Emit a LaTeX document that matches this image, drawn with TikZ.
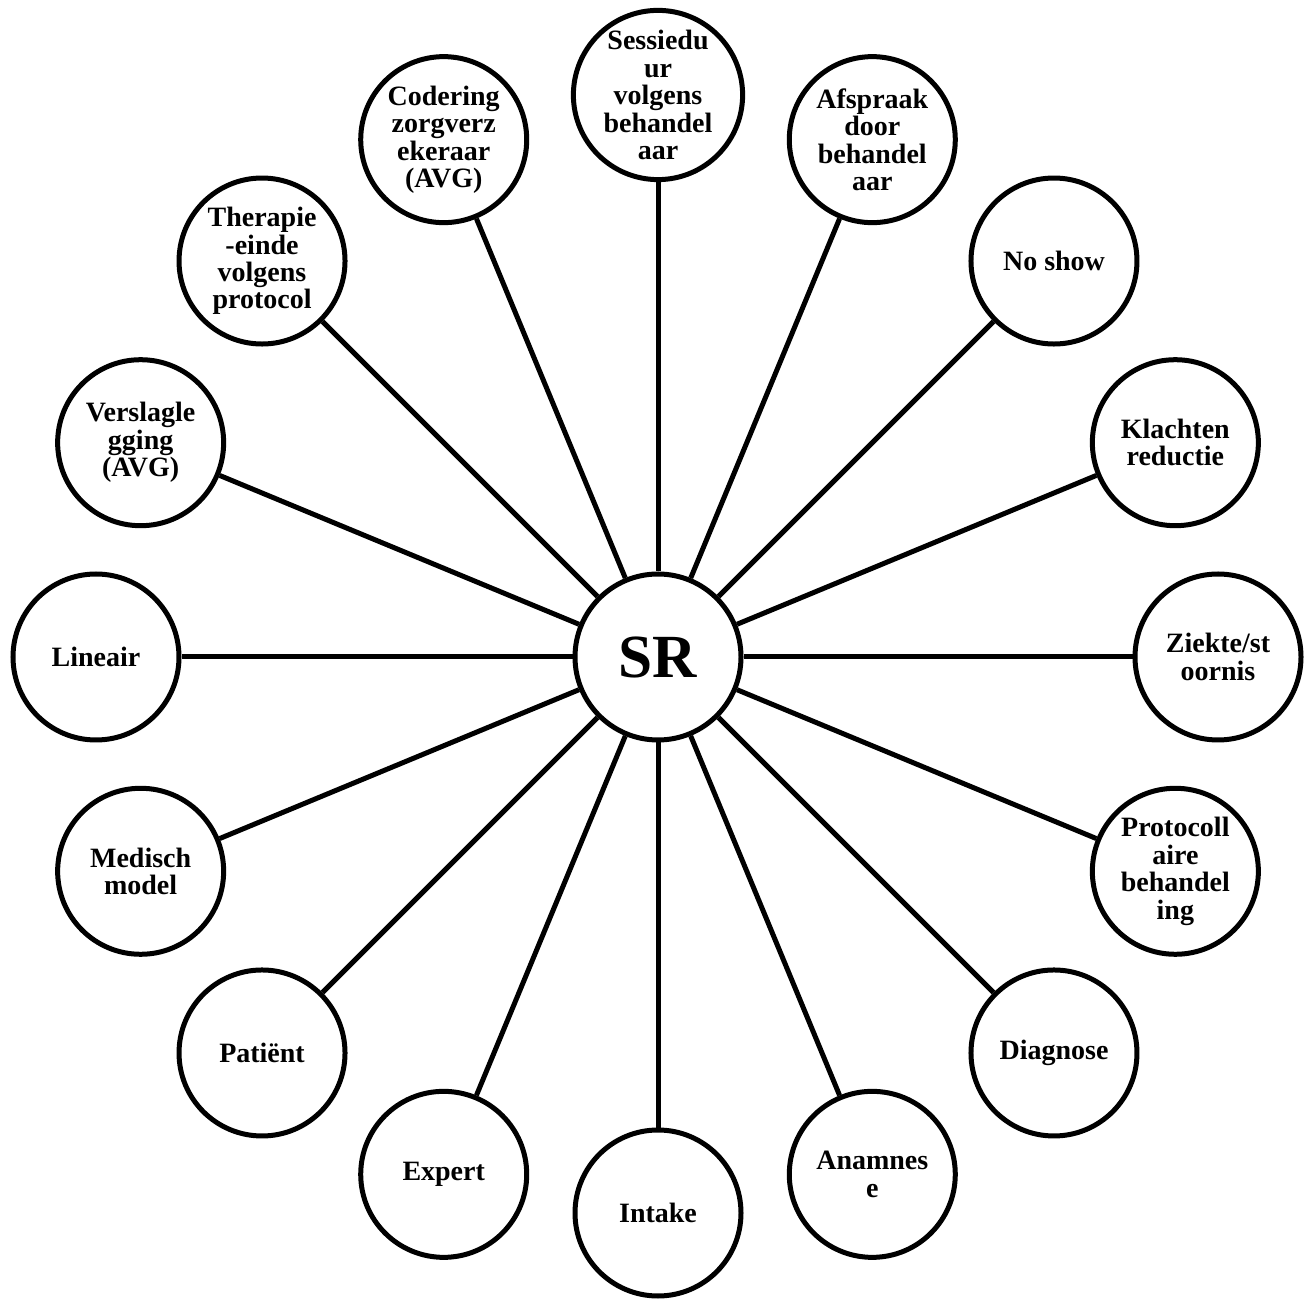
\documentclass[tikz,border=0pt]{standalone}
\usepackage{fontspec}
\setmainfont{Liberation Serif}
\begin{document}
\begin{tikzpicture}[x=0.75pt,y=0.75pt,
  bub/.style={circle,draw,line width=3.75pt,minimum size=124.5pt,inner sep=0pt,align=center,
    font=\bfseries\fontsize{21}{20.6}\selectfont},
  hub/.style={bub,font=\bfseries\fontsize{46}{50}\selectfont},
  spoke/.style={line width=3.75pt}]
\useasboundingbox (0,0) rectangle (1314,1304);
\node[hub] (sr) at (658,647) {SR};
\begin{scope}[shift={(658,647)}]
\node[bub] (n0)  at (0:560)     {Ziekte/st\\oornis};
\node[bub] (n1)  at (22.5:560)  {Klachten\\reductie};
\node[bub] (n2)  at (45:560)    {No show};
\node[bub] (n3)  at (67.5:560)  {Afspraak\\door\\behandel\\aar};
\node[bub] (n4)  at (90:562)    {Sessiedu\\ur\\volgens\\behandel\\aar};
\node[bub] (n5)  at (112.5:560) {Codering\\zorgverz\\ekeraar\\(AVG)};
\node[bub] (n6)  at (135:560)   {Therapie\\-einde\\volgens\\protocol};
\node[bub] (n7)  at (157.5:560) {Verslagle\\gging\\(AVG)};
\node[bub] (n8)  at (180:562)   {Lineair};
\node[bub] (n9)  at (202.5:560) {Medisch\\model};
\node[bub] (n10) at (225:560)   {Patiënt};
\node[bub] (n11) at (247.5:560) {Expert};
\node[bub] (n12) at (270:556)   {Intake};
\node[bub] (n13) at (292.5:560) {Anamnes\\e};
\node[bub] (n14) at (315:560)   {Diagnose};
\node[bub] (n15) at (337.5:560) {Protocoll\\aire\\behandel\\ing};
\end{scope}
\foreach \i in {0,...,15}{\draw[spoke] (sr) -- (n\i);}
\end{tikzpicture}
\end{document}
